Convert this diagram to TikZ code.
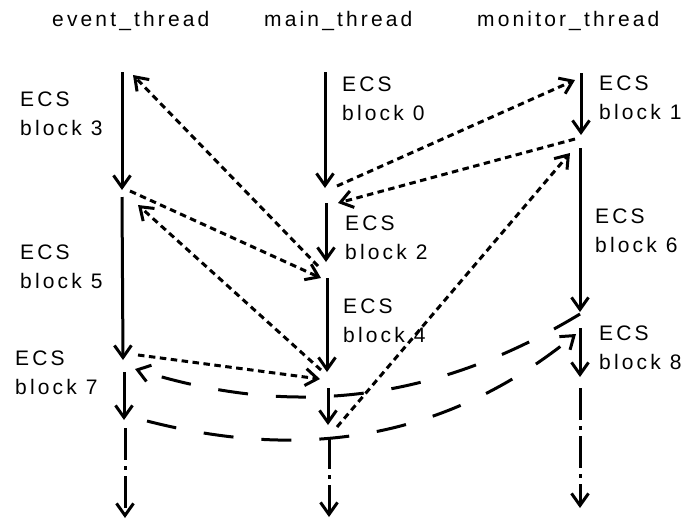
\documentclass[tikz,border=0pt]{standalone}
\usepackage{fontspec}
\setmainfont{Liberation Sans}[LetterSpace=15]
\usetikzlibrary{arrows.meta}

\begin{document}
\begin{tikzpicture}[x=1pt,y=-1pt,
  hdr/.style={font=\fontsize{21}{25}\selectfont, anchor=base west, inner sep=0pt},
  lbl/.style={font=\fontsize{21}{29}\selectfont, align=left, anchor=west, inner sep=0pt},
  seg/.style={line width=3pt, -{Straight Barb[length=12pt,width=17pt]}},
  msg/.style={seg, dash pattern=on 6.5pt off 4.5pt},
  waitmsg/.style={seg, dash pattern=on 30pt off 28pt},
  tailseg/.style={seg, dash pattern=on 32pt off 6pt on 4pt off 6pt},
]
\useasboundingbox (0,0) rectangle (685,523);

% thread headings
\node[hdr] (hev)  at (52,26)  {event\_thread};
\node[hdr] (hmn)  at (264,26) {main\_thread};
\node[hdr] (hmo)  at (477,26) {monitor\_thread};

% block labels
\node[lbl] (b3) at (20,114)  {ECS\\block 3};
\node[lbl] (b5) at (20,267)  {ECS\\block 5};
\node[lbl] (b7) at (15,373)  {ECS\\block 7};
\node[lbl] (b0) at (342,99)  {ECS\\block 0};
\node[lbl] (b2) at (345,238) {ECS\\block 2};
\node[lbl] (b4) at (343,321) {ECS\\block 4};
\node[lbl] (b1) at (599,98)  {ECS\\block 1};
\node[lbl] (b6) at (595,231) {ECS\\block 6};
\node[lbl] (b8) at (599,348) {ECS\\block 8};

% event thread segments
\coordinate (e1a) at (122,72);  \coordinate (e1b) at (122,190);
\coordinate (e2a) at (122,197); \coordinate (e2b) at (123,360);
\coordinate (e3a) at (124,372); \coordinate (e3b) at (124,420);
\coordinate (e4a) at (125,428); \coordinate (e4b) at (125,518);
% main thread segments
\coordinate (m1a) at (325,72);  \coordinate (m1b) at (325,188);
\coordinate (m2a) at (326,203); \coordinate (m2b) at (326,262);
\coordinate (m3a) at (327,278); \coordinate (m3b) at (327,372);
\coordinate (m4a) at (328,388); \coordinate (m4b) at (328,425);
\coordinate (m5a) at (329,437); \coordinate (m5b) at (329,517);
% monitor thread segments
\coordinate (n1a) at (581,73);  \coordinate (n1b) at (581,135);
\coordinate (n2a) at (580,148); \coordinate (n2b) at (580,312);
\coordinate (n3a) at (580,328); \coordinate (n3b) at (580,377);
\coordinate (n4a) at (580,388); \coordinate (n4b) at (580,508);

\draw[seg] (e1a) -- (e1b);
\draw[seg] (e2a) -- (e2b);
\draw[seg] (e3a) -- (e3b);
\draw[tailseg] (e4a) -- (e4b);
\draw[seg] (m1a) -- (m1b);
\draw[seg] (m2a) -- (m2b);
\draw[seg] (m3a) -- (m3b);
\draw[seg] (m4a) -- (m4b);
\draw[tailseg] (m5a) -- (m5b);
\draw[seg] (n1a) -- (n1b);
\draw[seg] (n2a) -- (n2b);
\draw[seg] (n3a) -- (n3b);
\draw[tailseg] (n4a) -- (n4b);

% message end points
\coordinate (d1s) at (318,266); \coordinate (d1t) at (133,75);
\coordinate (d2s) at (130,191); \coordinate (d2t) at (321,278);
\coordinate (d3s) at (321,370); \coordinate (d3t) at (138,205);
\coordinate (d4s) at (138,355); \coordinate (d4t) at (320,379);
\coordinate (d5s) at (337,186); \coordinate (d5t) at (575,80);
\coordinate (d6s) at (575,139); \coordinate (d6t) at (338,203);
\coordinate (d7s) at (337,427); \coordinate (d7t) at (570,153);
\coordinate (c1s) at (580,314); \coordinate (c1t) at (135,369);
\coordinate (c2s) at (147,421); \coordinate (c2t) at (576,334);

% short messages
\draw[msg] (d1s) -- (d1t);
\draw[msg] (d2s) -- (d2t);
\draw[msg] (d3s) -- (d3t);
\draw[msg] (d4s) -- (d4t);
\draw[msg] (d5s) -- (d5t);
\draw[msg] (d6s) -- (d6t);
\draw[msg] (d7s) -- (d7t);

% waiting messages
\draw[waitmsg] (c1s) .. controls (400,423) and (250,405) .. (c1t);
\draw[waitmsg] (c2s) .. controls (260,450) and (419,462) .. (c2t);
\end{tikzpicture}
\end{document}
